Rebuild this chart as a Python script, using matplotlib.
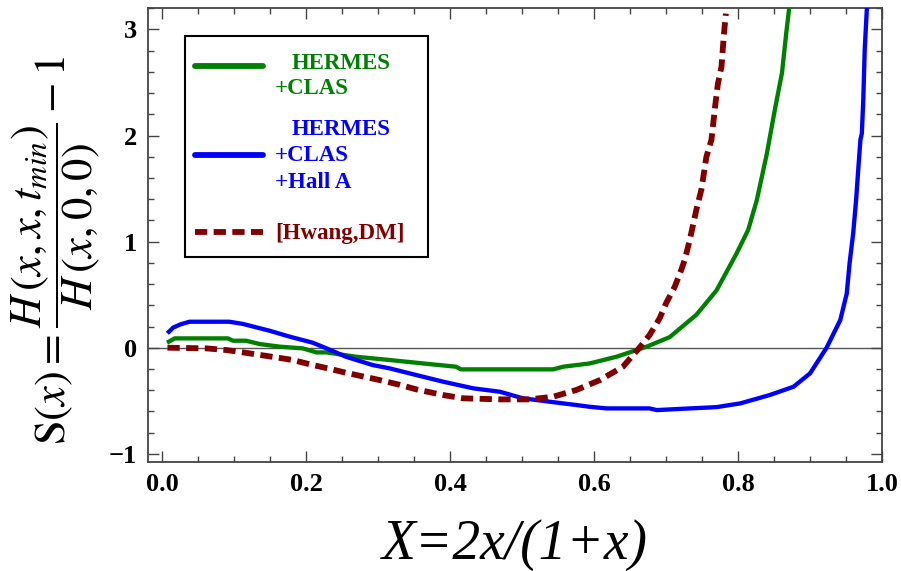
import matplotlib
matplotlib.use("Agg")
import matplotlib.pyplot as plt
from matplotlib.lines import Line2D
from matplotlib.patches import Rectangle
from matplotlib.ticker import MultipleLocator, FormatStrFormatter

# S(x) curves for the two fits and the Hwang/DM model
x_green = [0.009, 0.017, 0.091, 0.098, 0.116, 0.135, 0.163, 0.195, 0.214, 0.228,
           0.269, 0.316, 0.362, 0.408, 0.415, 0.543, 0.557, 0.594, 0.631, 0.659,
           0.673, 0.705, 0.742, 0.770, 0.798, 0.814, 0.826, 0.840, 0.851, 0.861,
           0.867, 0.871]
s_green = [0.057, 0.088, 0.088, 0.066, 0.066, 0.035, 0.010, -0.006, -0.044, -0.044,
           -0.085, -0.116, -0.148, -0.179, -0.204, -0.204, -0.179, -0.148, -0.085, -0.022,
           0.010, 0.10, 0.31, 0.54, 0.89, 1.11, 1.39, 1.83, 2.24, 2.59,
           2.97, 3.20]

x_blue = [0.009, 0.015, 0.025, 0.0375, 0.093, 0.112, 0.149, 0.177, 0.209, 0.228,
          0.255, 0.292, 0.316, 0.353, 0.390, 0.432, 0.469, 0.501, 0.538, 0.575,
          0.594, 0.617, 0.677, 0.687, 0.710, 0.770, 0.803, 0.844, 0.877, 0.900,
          0.923, 0.942, 0.951, 0.955, 0.960, 0.964, 0.967, 0.970, 0.972, 0.974,
          0.976, 0.979]
s_blue = [0.15, 0.19, 0.22, 0.245, 0.245, 0.224, 0.16, 0.104, 0.047, -0.006,
          -0.085, -0.163, -0.195, -0.258, -0.32, -0.383, -0.415, -0.477, -0.509, -0.54,
          -0.557, -0.572, -0.572, -0.588, -0.58, -0.56, -0.525, -0.446, -0.368, -0.242,
          0.0, 0.26, 0.51, 0.80, 1.08, 1.39, 1.68, 1.96, 2.02, 2.34,
          2.81, 3.20]

x_red = [0.007, 0.061, 0.089, 0.112, 0.158, 0.181, 0.209, 0.230, 0.255, 0.302,
         0.330, 0.353, 0.390, 0.418, 0.469, 0.510, 0.543, 0.575, 0.608, 0.640,
         0.663, 0.677, 0.691, 0.700, 0.712, 0.721, 0.726, 0.733, 0.742, 0.749,
         0.756, 0.763, 0.768, 0.772, 0.777, 0.780, 0.783]
s_red = [0.0, -0.006, -0.022, -0.044, -0.091, -0.116, -0.163, -0.195, -0.236, -0.305,
         -0.35, -0.393, -0.446, -0.477, -0.487, -0.487, -0.462, -0.399, -0.305, -0.179,
         0.0, 0.12, 0.277, 0.42, 0.575, 0.733, 0.83, 1.02, 1.30, 1.49,
         1.80, 1.96, 2.27, 2.49, 2.65, 2.93, 3.15]

legend_lines = [["HERMES", "+CLAS"], ["HERMES", "+CLAS", "+Hall A"], ["[Hwang,DM]"]]
colors = ["#008000", "#0000ff", "#800000"]

plt.rcParams["mathtext.fontset"] = "stix"
serif = "Liberation Serif"
red_dash = dict(dashes=(2.1, 1.1), dash_capstyle="butt")

fig = plt.figure(figsize=(9.01, 5.71), dpi=100)
ax = fig.add_axes([0.1643, 0.1904, 0.8146, 0.7951])

ax.axhline(0, color="#555555", lw=1.0, zorder=1)
ax.plot(x_green, s_green, color=colors[0], lw=3.1, zorder=3)
ax.plot(x_blue, s_blue, color=colors[1], lw=3.1, zorder=3)
ax.plot(x_red, s_red, color=colors[2], lw=4.2, zorder=4, **red_dash)

ax.set_xlim(-0.02, 1.0)
ax.set_ylim(-1.08, 3.2)
ax.xaxis.set_major_locator(MultipleLocator(0.2))
ax.xaxis.set_minor_locator(MultipleLocator(0.05))
ax.yaxis.set_major_locator(MultipleLocator(1))
ax.yaxis.set_minor_locator(MultipleLocator(0.2))
ax.xaxis.set_major_formatter(FormatStrFormatter("%.1f"))
ax.tick_params(which="both", direction="in", top=True, right=True,
               color="#444444", width=1.0)
ax.tick_params(which="major", length=8, pad=8)
ax.tick_params(which="minor", length=4.5)
for lab in ax.get_xticklabels() + ax.get_yticklabels():
    lab.set_fontfamily(serif)
    lab.set_fontweight("bold")
    lab.set_fontsize(19)
for sp in ax.spines.values():
    sp.set_color("#444444")
    sp.set_linewidth(1.3)

fig.text(0.571, 0.046, "X=2x/(1+x)", family=serif, style="italic",
         fontsize=40, ha="center", va="center")
fig.text(0.062, 0.562, r"$\mathrm{S}(x)=\dfrac{H\,(x,x,t_{min})}{H\,(x,0,0)}-1$",
         fontsize=32, rotation=90, ha="center", va="center")

# legend box, drawn by hand in axes coordinates
ax.add_patch(Rectangle((0.050, 0.452), 0.331, 0.487, transform=ax.transAxes,
                       facecolor="white", edgecolor="black", lw=1.5, zorder=5))
handle_y = [0.873, 0.677, 0.508]
text_y = [[0.879, 0.824], [0.732, 0.675, 0.616], [0.505]]
for i, c in enumerate(colors):
    style = red_dash if i == 2 else {}
    ax.add_line(Line2D([0.0636, 0.1563], [handle_y[i], handle_y[i]],
                       transform=ax.transAxes, color=c, lw=4.2,
                       solid_capstyle="round", zorder=6, **style))
    for line, ty in zip(legend_lines[i], text_y[i]):
        tx = 0.196 if line == "HERMES" else 0.1727
        ax.text(tx, ty, line, transform=ax.transAxes, color=c, family=serif,
                weight="bold", fontsize=16.5, ha="left", va="center", zorder=6)

fig.savefig("out.png", dpi=100)
